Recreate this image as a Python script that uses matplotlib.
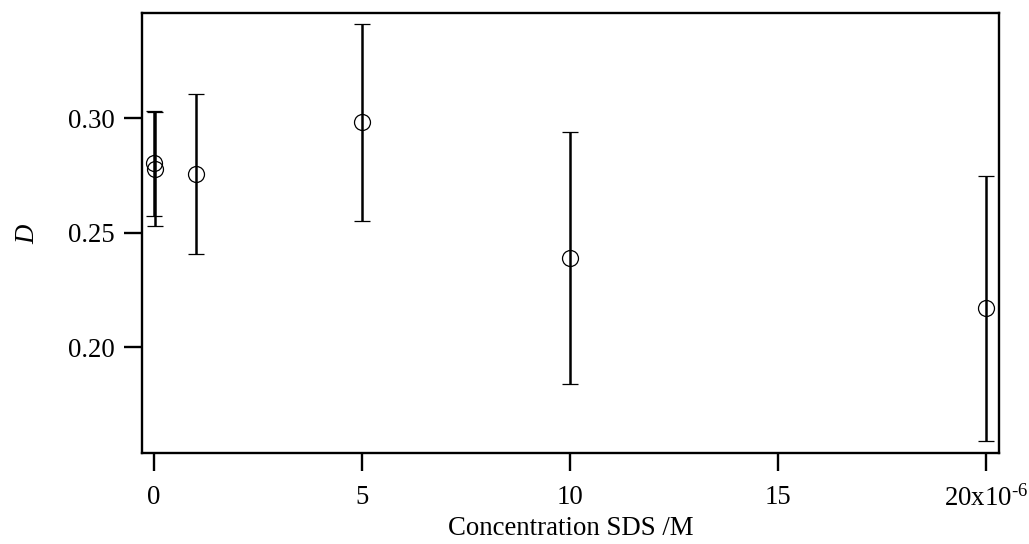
import numpy as np
import matplotlib
matplotlib.use('Agg')
import matplotlib.pyplot as plt

# data: SDS concentration (M), D and its error
conc = [0.0, 0.02e-6, 1e-6, 5e-6, 10e-6, 20e-6]
D_val = [0.2803, 0.2777, 0.2755, 0.2981, 0.2390, 0.2169]
D_err = [0.023, 0.025, 0.035, 0.043, 0.055, 0.058]

x_ticks = [0, 5e-6, 10e-6, 15e-6, 20e-6]
x_ticklabels = ['0', '5', '10', '15', r'20x10$^{\text{-6}}$']
y_ticks = [0.20, 0.25, 0.30]

plt.rcParams['font.family'] = 'Liberation Serif'
plt.rcParams['mathtext.fontset'] = 'custom'
plt.rcParams['mathtext.rm'] = 'Liberation Serif'
plt.rcParams['mathtext.it'] = 'Liberation Serif:italic'
fs = 19.3

fig = plt.figure(figsize=(10.29, 5.44), dpi=100)
ax = fig.add_axes([0.1383, 0.1673, 0.8328, 0.8087])

ax.errorbar(conc, D_val, yerr=D_err, fmt='o', mfc='none', mec='black', mew=0.9,
            ms=11.5, ecolor='black', elinewidth=1.8, capsize=5.5, capthick=1.9, zorder=3)

ax.set_xlim(-0.28e-6, 20.32e-6)
ax.set_ylim(0.1537, 0.3459)
ax.set_xticks(x_ticks)
ax.set_xticklabels(x_ticklabels)
ax.set_yticks(y_ticks)
ax.set_yticklabels(['%.2f' % v for v in y_ticks])

for s in ax.spines.values():
    s.set_linewidth(1.7)
ax.tick_params(direction='out', length=13, width=1.7, pad=7, labelsize=fs)
ax.tick_params(axis='x', pad=10)

ax.set_xlabel('Concentration SDS /M', fontsize=fs, labelpad=3)
ax.set_ylabel('$D$', fontsize=fs, labelpad=20)

fig.savefig('out.png', dpi=100)
